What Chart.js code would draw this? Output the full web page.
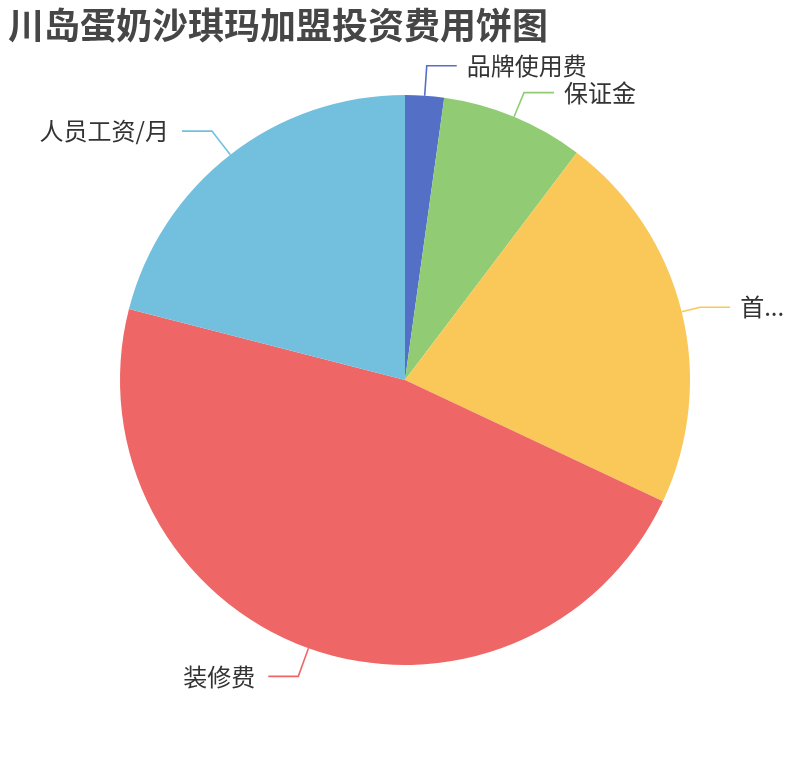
<!DOCTYPE html>
<html>
<head>
<meta charset="utf-8">
<script src="https://cdn.jsdelivr.net/npm/chart.js@4/dist/chart.umd.min.js"></script>
<style>
  html, body { margin: 0; padding: 0; background: #fff; }
  #wrap { width: 810px; height: 760px; }
</style>
</head>
<body>
<div id="wrap"><canvas id="myChart" width="810" height="760"></canvas></div>
<script>
// chart data
const title = '川岛蛋奶沙琪玛加盟投资费用饼图';
const categories = ['品牌使用费', '保证金', '首...', '装修费', '人员工资/月'];
const shares = [2.2, 8.1, 21.7, 47.0, 21.0];
const colors = ['#5470c6', '#91cc75', '#fac858', '#ee6666', '#73c0de'];

const FONT = '"Noto Sans CJK SC", "Noto Sans", sans-serif';

// title + outside labels with leader lines
const pieLabels = {
    id: 'pieLabels',
    afterDraw(chart, args, opts) {
        const ctx = chart.ctx;
        ctx.save();
        ctx.fillStyle = '#464646';
        ctx.font = 'bold 36px ' + FONT;
        ctx.textAlign = 'left';
        ctx.textBaseline = 'middle';
        ctx.fillText(title, 8, 25);

        const meta = chart.getDatasetMeta(0);
        ctx.font = '24px ' + FONT;
        meta.data.forEach((arc, i) => {
            const p = arc.getProps(['x', 'y', 'startAngle', 'endAngle', 'outerRadius'], true);
            const a = (p.startAngle + p.endAngle) / 2;
            const len1 = opts.len1[i];
            const x0 = p.x + p.outerRadius * Math.cos(a);
            const y0 = p.y + p.outerRadius * Math.sin(a);
            const x1 = p.x + (p.outerRadius + len1) * Math.cos(a);
            const y1 = p.y + (p.outerRadius + len1) * Math.sin(a);
            const right = Math.cos(a) >= 0;
            const x2 = x1 + (right ? opts.len2 : -opts.len2);
            ctx.strokeStyle = colors[i];
            ctx.lineWidth = 1.6;
            ctx.beginPath();
            ctx.moveTo(x0, y0);
            ctx.lineTo(x1, y1);
            ctx.lineTo(x2, y1);
            ctx.stroke();
            ctx.fillStyle = '#333';
            ctx.textAlign = right ? 'left' : 'right';
            ctx.fillText(chart.data.labels[i], x2 + (right ? 10 : -13), y1);
        });
        ctx.restore();
    }
};

const myChart = new Chart(document.getElementById('myChart'), {
    type: 'pie',
    data: {
        labels: categories,
        datasets: [{
            data: shares,
            backgroundColor: colors,
            borderWidth: 0
        }]
    },
    options: {
        responsive: false,
        animation: false,
        layout: { padding: { left: 120, right: 120, top: 95, bottom: 95 } },
        plugins: {
            legend: { display: false },
            tooltip: { enabled: false },
            pieLabels: { len1: [30, 26, 19, 30, 30], len2: 30 }
        }
    },
    plugins: [pieLabels]
});
</script>
</body>
</html>
